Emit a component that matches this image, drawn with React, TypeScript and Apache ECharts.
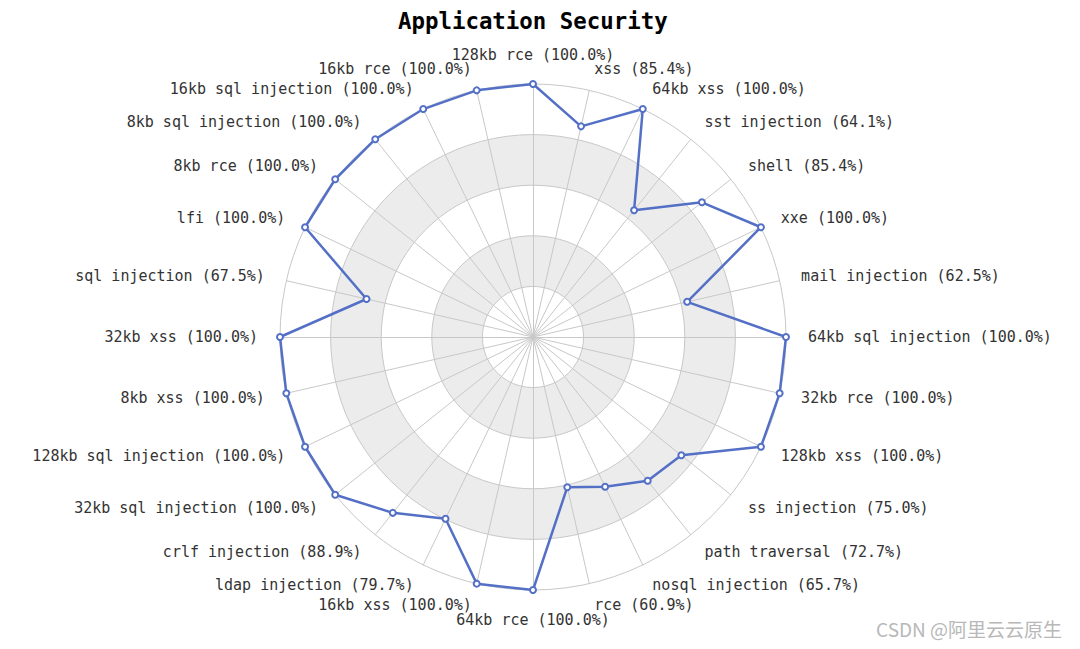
import React, { useEffect, useRef } from "react";
import * as echarts from "echarts";

// Clockwise from the top
const categories: string[] = [
  "128kb rce", "xss", "64kb xss", "sst injection", "shell", "xxe", "mail injection",
  "64kb sql injection", "32kb rce", "128kb xss", "ss injection", "path traversal",
  "nosql injection", "rce", "64kb rce", "16kb xss", "ldap injection", "crlf injection",
  "32kb sql injection", "128kb sql injection", "8kb xss", "32kb xss", "sql injection",
  "lfi", "8kb rce", "8kb sql injection", "16kb sql injection", "16kb rce",
];
const scores: number[] = [
  100.0, 85.4, 100.0, 64.1, 85.4, 100.0, 62.5,
  100.0, 100.0, 100.0, 75.0, 72.7,
  65.7, 60.9, 100.0, 100.0, 79.7, 88.9,
  100.0, 100.0, 100.0, 100.0, 67.5,
  100.0, 100.0, 100.0, 100.0, 100.0,
];
const maxScore = 100;
const titleText = "Application Security";
const watermark = "CSDN @阿里云云原生";

const MONO = "'DejaVu Sans Mono', 'Liberation Mono', monospace";

export default function App() {
  const ref = useRef<HTMLDivElement>(null);
  useEffect(() => {
    if (!ref.current) return;
    const chart = echarts.init(ref.current, undefined, { renderer: "svg" });
    // ECharts radar goes counter-clockwise; reorder to draw clockwise
    const order = [0, ...categories.map((_, i) => i).slice(1).reverse()];
    const indicator = order.map((i) => ({
      name: `${categories[i]} (${scores[i].toFixed(1)}%)`,
      max: maxScore,
    }));
    const values = order.map((i) => scores[i]);
    chart.setOption({
      animation: false,
      backgroundColor: "#ffffff",
      title: {
        text: titleText,
        left: 393,
        top: 5,
        textStyle: { fontFamily: MONO, fontSize: 22.4, fontWeight: "bold", color: "#000" },
      },
      radar: {
        center: [533, 337],
        radius: 253,
        startAngle: 90,
        splitNumber: 5,
        shape: "circle",
        nameGap: 22,
        axisName: { color: "#333", fontFamily: MONO, fontSize: 15 },
        axisLine: { lineStyle: { color: "#c8c8c8" } },
        splitLine: { lineStyle: { color: "#c8c8c8" } },
        splitArea: {
          show: true,
          areaStyle: { color: ["rgba(255,255,255,1)", "rgba(236,236,236,1)"] },
        },
        indicator,
      },
      series: [
        {
          type: "radar",
          symbol: "emptyCircle",
          symbolSize: 6,
          lineStyle: { color: "#5470c6", width: 2.5 },
          itemStyle: { color: "#5470c6", borderWidth: 1.5 },
          data: [{ value: values, name: titleText }],
        },
      ],
      graphic: [
        {
          type: "text",
          right: 18,
          top: 619,
          style: {
            text: watermark,
            fontSize: 19,
            fontFamily: "'Noto Sans CJK SC', 'Noto Sans', sans-serif",
            fill: "#b8b8b8",
          },
        },
      ],
    });
    return () => chart.dispose();
  }, []);
  return (
    <div
      ref={ref}
      style={{ position: "fixed", left: 0, top: 0, width: 1080, height: 649 }}
    />
  );
}
